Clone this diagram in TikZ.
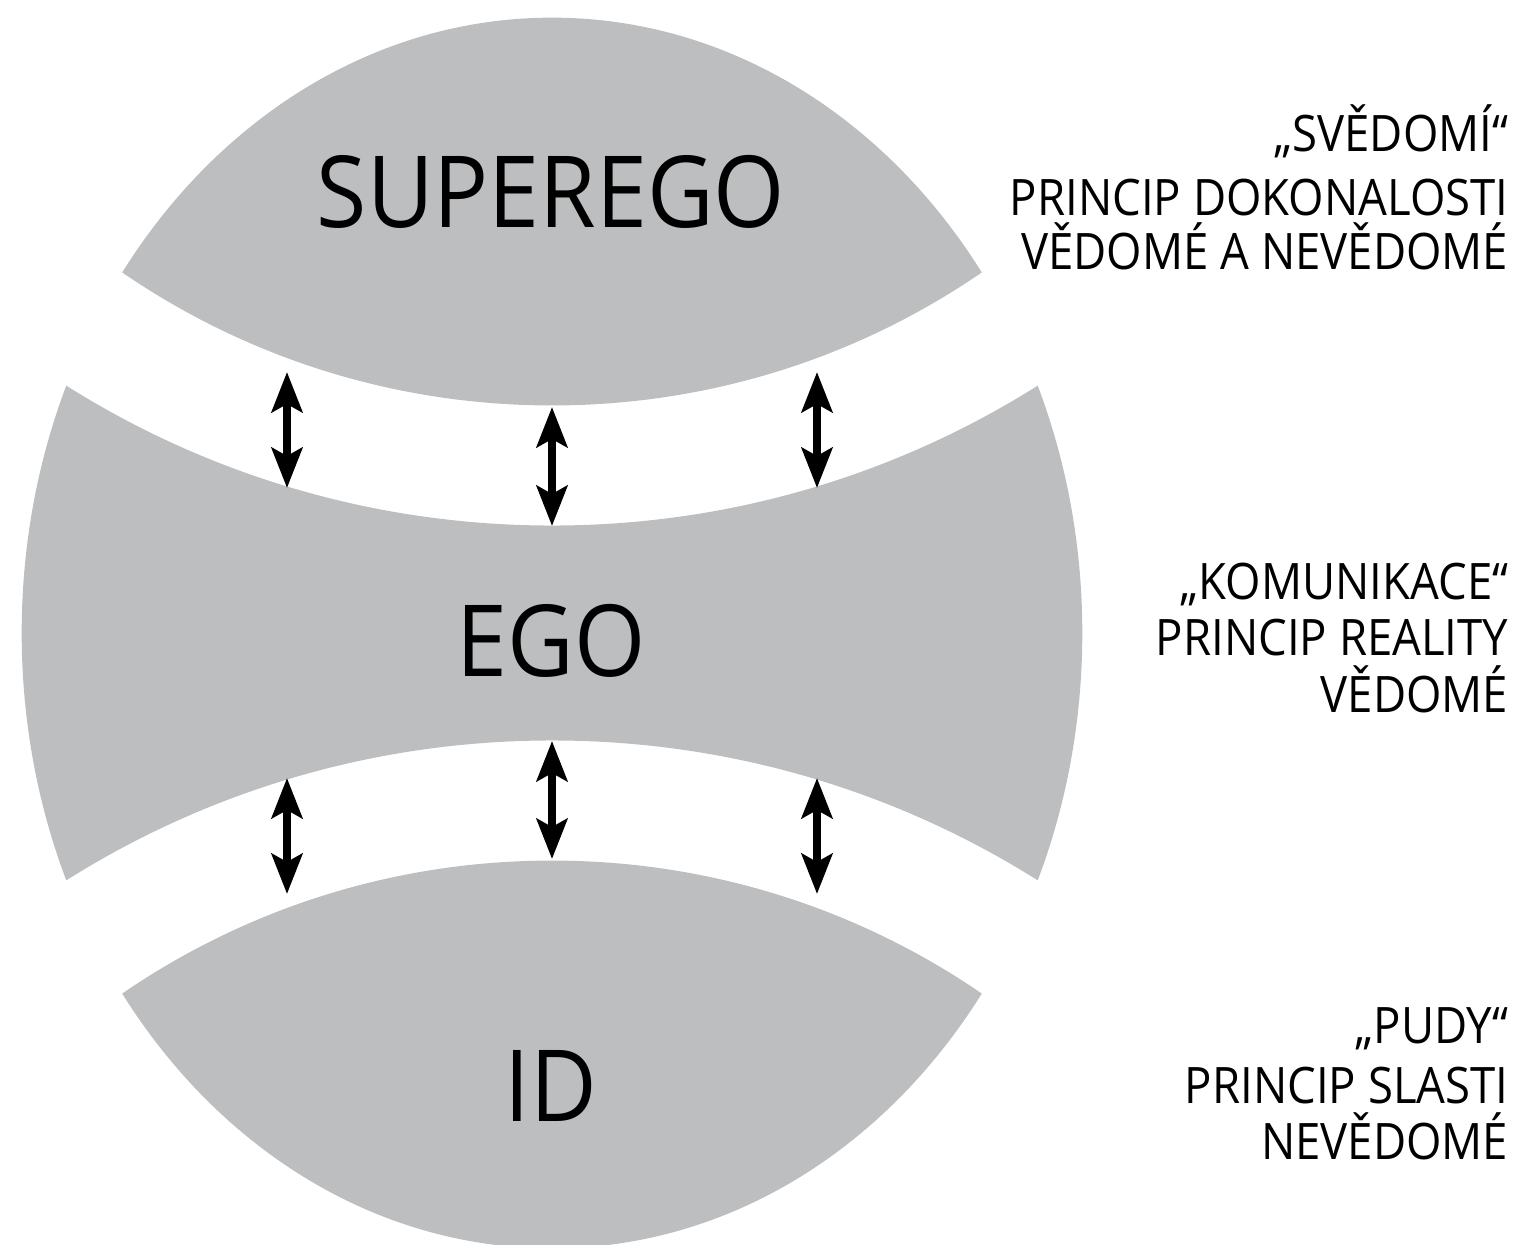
\documentclass[tikz,border=0pt]{standalone}
\usepackage{fontspec}
\setmainfont{Open Sans}[FakeStretch=0.92]
\newfontfamily\sidefont{Open Sans}[FakeStretch=0.905]
\usetikzlibrary{arrows.meta}
\definecolor{psyche}{RGB}{188,190,192}
\begin{document}
\begin{tikzpicture}[x=0.01cm,y=-0.01cm,
  big/.style={font=\fontsize{28.3pt}{30pt}\selectfont, inner sep=0pt, anchor=base},
  side/.style={font=\sidefont\fontsize{14.3pt}{16pt}\selectfont, inner sep=0pt, anchor=base east},
  tip/.tip={Stealth[length=11.4pt,width=8.7pt,inset=2.3pt]},
  twoway/.style={tip-tip, line width=2.3pt, black}]
\useasboundingbox (0,0) rectangle (1517,1245);
% psyche shapes: superego, ego, id
\begin{scope}
  \clip (552,633) ellipse [x radius=5.3cm, y radius=6.15cm];
  \fill[psyche] (552,-355) circle [radius=7.6cm];
  \fill[psyche, even odd rule] (0,0) rectangle (1200,1300)
        (552,-387) circle [radius=9.12cm]
        (552,1653) circle [radius=9.12cm];
  \fill[psyche] (552,1621) circle [radius=7.6cm];
\end{scope}
% labels
\node[big] (superego) at (551,227) {SUPEREGO};
\node[big] (ego) at (551,676) {EGO};
\node[big] (id) at (551,1121) {ID};
% arrow end points
\coordinate (a1t) at (287,372); \coordinate (a1b) at (287,488);
\coordinate (a2t) at (552,407); \coordinate (a2b) at (552,526);
\coordinate (a3t) at (817,372); \coordinate (a3b) at (817,488);
\coordinate (b1t) at (287,778); \coordinate (b1b) at (287,894);
\coordinate (b2t) at (552,741); \coordinate (b2b) at (552,859);
\coordinate (b3t) at (817,778); \coordinate (b3b) at (817,894);
\draw[twoway] (a1t) -- (a1b);
\draw[twoway] (a2t) -- (a2b);
\draw[twoway] (a3t) -- (a3b);
\draw[twoway] (b1t) -- (b1b);
\draw[twoway] (b2t) -- (b2b);
\draw[twoway] (b3t) -- (b3b);
% side descriptions
\node[side] (s1) at (1509,151) {„SVĚDOMÍ“};
\node[side] (s2) at (1509,215) {PRINCIP DOKONALOSTI};
\node[side] (s3) at (1509,269) {VĚDOMÉ A NEVĚDOMÉ};
\node[side] (e1) at (1509,599) {„KOMUNIKACE“};
\node[side] (e2) at (1509,655) {PRINCIP REALITY};
\node[side] (e3) at (1509,712) {VĚDOMÉ};
\node[side] (i1) at (1509,1043) {„PUDY“};
\node[side] (i2) at (1509,1103) {PRINCIP SLASTI};
\node[side] (i3) at (1509,1159) {NEVĚDOMÉ};
\end{tikzpicture}
\end{document}
